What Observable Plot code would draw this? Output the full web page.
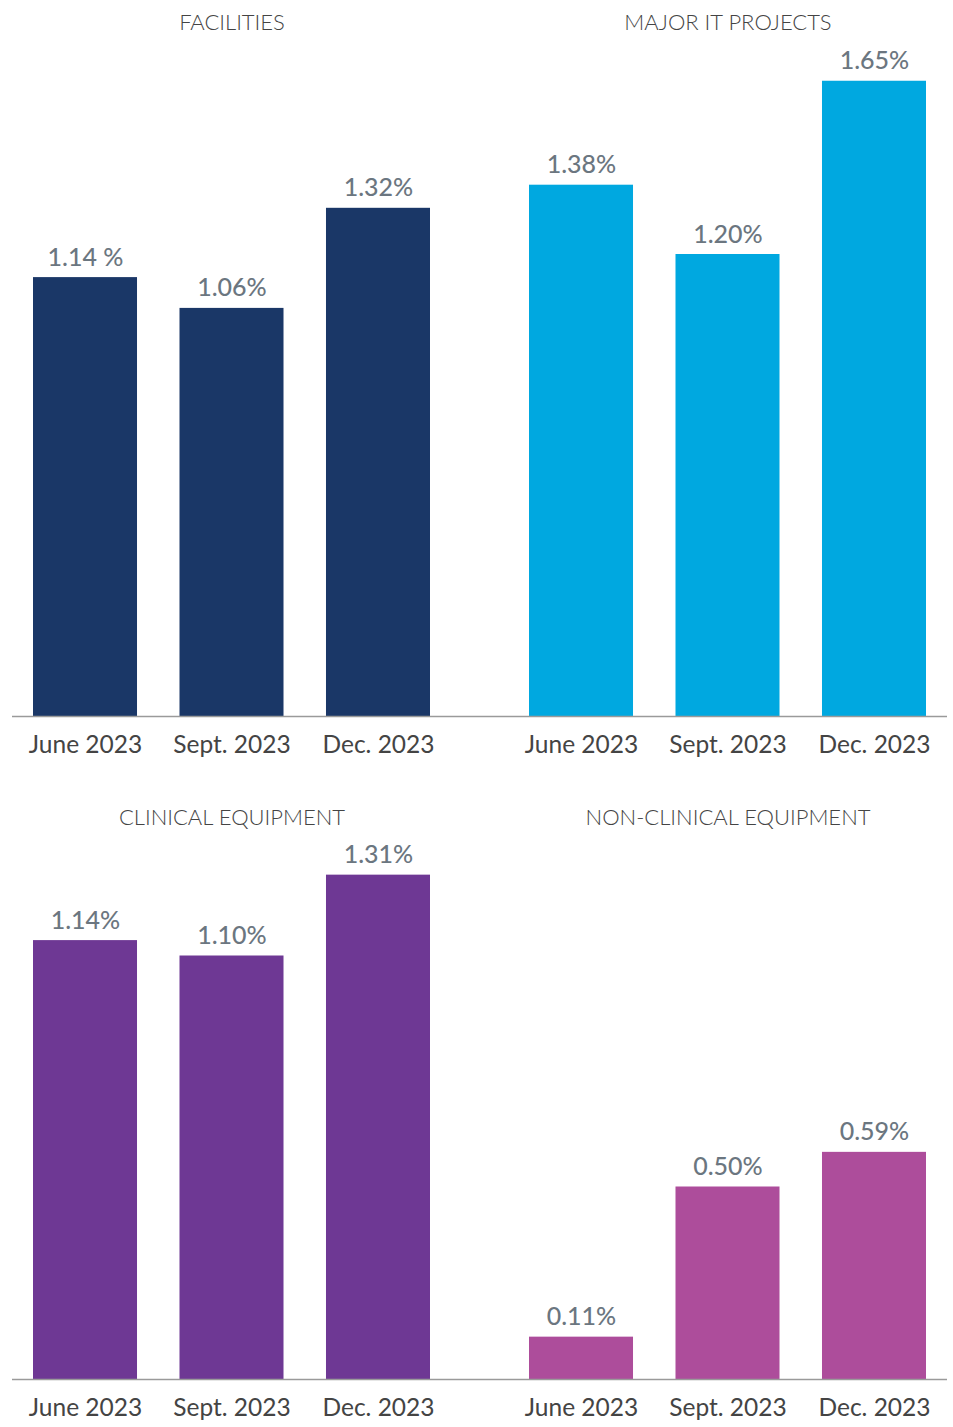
<!DOCTYPE html>
<html>
<head>
<meta charset="utf-8">
<script src="https://cdn.jsdelivr.net/npm/d3@7"></script>
<script src="https://cdn.jsdelivr.net/npm/@observablehq/plot@0.6"></script>
<style>
  body { margin: 0; background: #fff; }
  #grid { display: grid; grid-template-columns: 496px 457px; grid-template-rows: 770px 657px; width: 953px; }
  #grid svg { display: block; }
</style>
</head>
<body>
<div id="grid"></div>
<script>
const periods = ["June 2023", "Sept. 2023", "Dec. 2023"];

const facilitiesValues = [1.14, 1.06, 1.32];
const facilitiesLabels = ["1.14 %", "1.06%", "1.32%"];

const itValues = [1.38, 1.20, 1.65];
const itLabels = ["1.38%", "1.20%", "1.65%"];

const clinicalValues = [1.14, 1.10, 1.31];
const clinicalLabels = ["1.14%", "1.10%", "1.31%"];

const nonClinicalValues = [0.11, 0.50, 0.59];
const nonClinicalLabels = ["0.11%", "0.50%", "0.59%"];

const panels = [
  {title: "FACILITIES", values: facilitiesValues, labels: facilitiesLabels, color: "#1a3767", col: 0, row: 0},
  {title: "MAJOR IT PROJECTS", values: itValues, labels: itLabels, color: "#00a8e0", col: 1, row: 0},
  {title: "CLINICAL EQUIPMENT", values: clinicalValues, labels: clinicalLabels, color: "#6e3894", col: 0, row: 1},
  {title: "NON-CLINICAL EQUIPMENT", values: nonClinicalValues, labels: nonClinicalLabels, color: "#ad4d9b", col: 1, row: 1}
];

const grid = document.getElementById("grid");
const pxPerUnit = 385;

for (const p of panels) {
  const width = p.col === 0 ? 496 : 457;
  const height = p.row === 0 ? 770 : 657;
  const marginBottom = p.row === 0 ? 54 : 48;
  const marginTop = p.row === 0 ? 22 : 47;
  const base = height - marginBottom;
  const data = periods.map((d, i) => ({period: d, value: p.values[i], label: p.labels[i]}));
  const chart = Plot.plot({
    width, height,
    marginLeft: p.col === 0 ? 12 : 0,
    marginRight: p.col === 0 ? 0 : 6,
    marginTop, marginBottom,
    style: {fontFamily: "Lato, sans-serif", background: "#fff", overflow: "visible"},
    x: {domain: periods, range: [33, 430], paddingInner: 0.29, paddingOuter: 0, round: false},
    y: {domain: [0, 1], range: [base, base - pxPerUnit], axis: null},
    marks: [
      Plot.barY(data, {x: "period", y: "value", fill: p.color}),
      Plot.ruleY([0], {stroke: "#9a9a9a", strokeWidth: 1.5}),
      Plot.text(data, {x: "period", y: "value", text: "label", dy: -20, lineAnchor: "middle",
        fontSize: 25, fontWeight: 500, fill: "#6b7680", letterSpacing: "-1px"}),
      Plot.text([p.title], {x: () => periods[1], frameAnchor: "top", lineAnchor: "middle",
        fontSize: 22, fontWeight: 300, fill: "#444", letterSpacing: "-0.3px"}),
      Plot.axisX({tickSize: 0, tickPadding: 19, fontSize: 24.5, fill: "#444", fontWeight: 400, letterSpacing: "-0.9px", label: null})
    ]
  });
  chart.style.gridColumn = String(p.col + 1);
  chart.style.gridRow = String(p.row + 1);
  grid.appendChild(chart);
}
</script>
</body>
</html>
